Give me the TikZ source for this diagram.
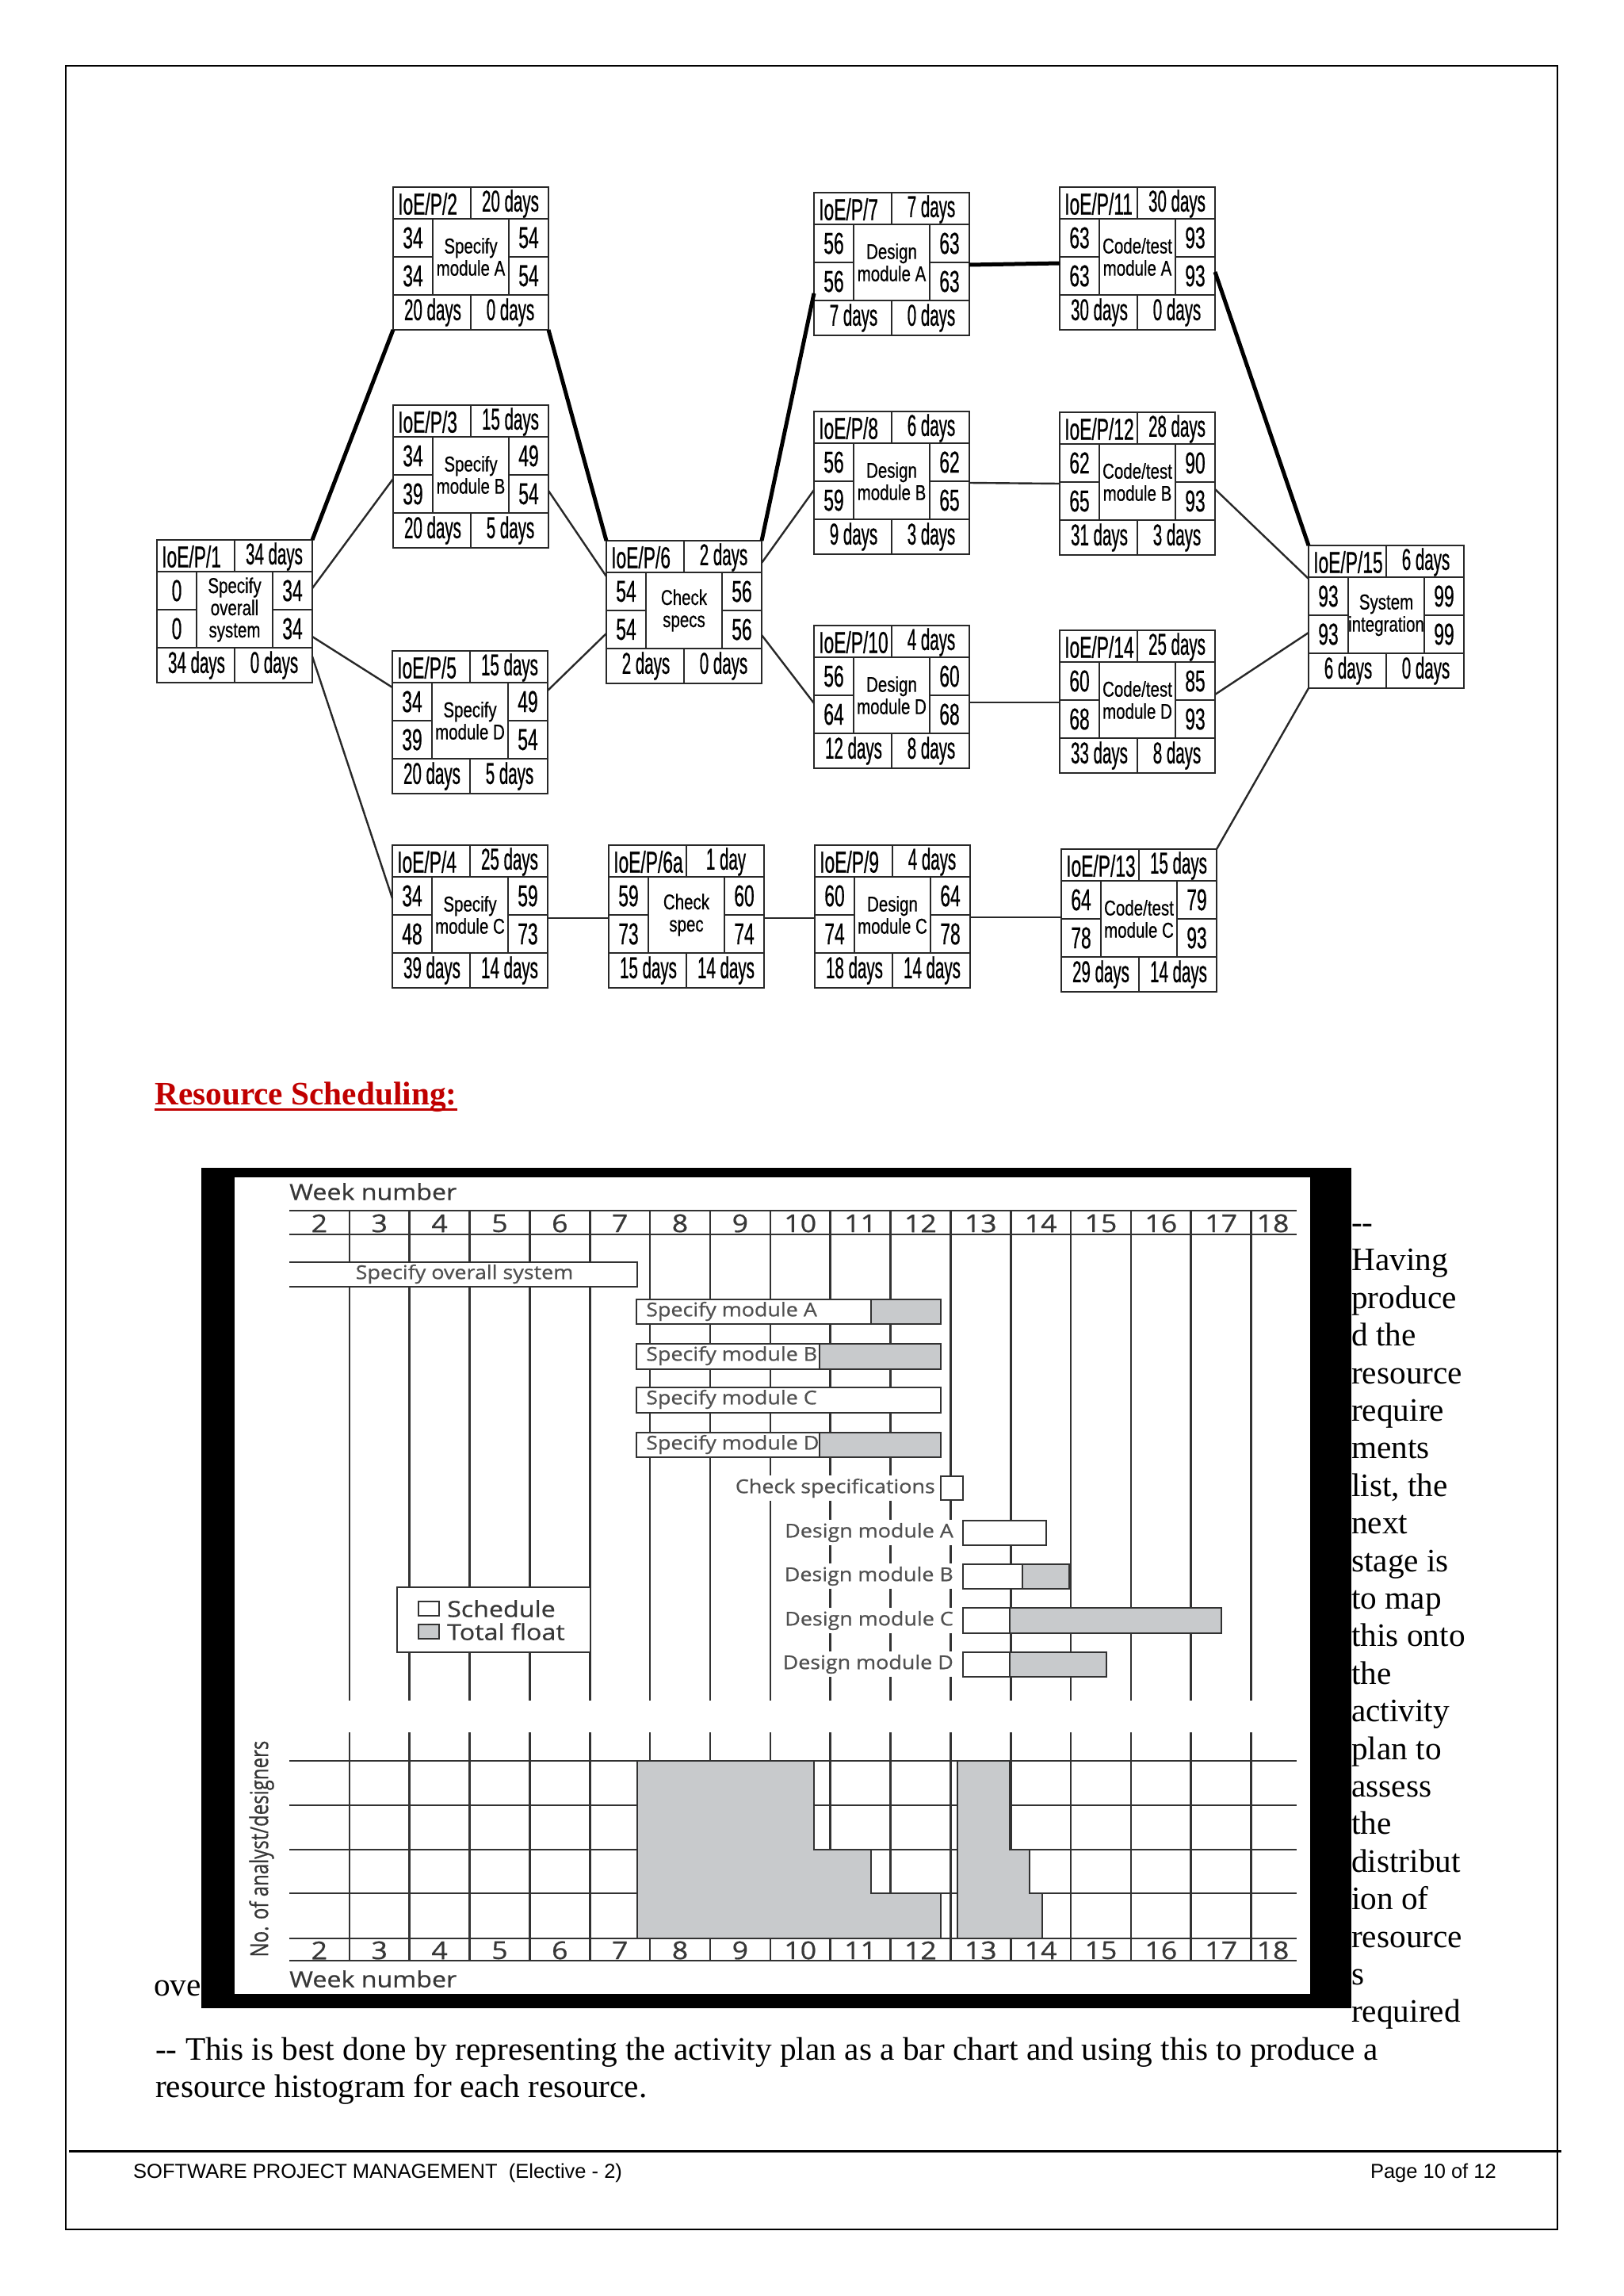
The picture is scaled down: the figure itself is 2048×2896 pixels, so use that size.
\documentclass[tikz,border=0pt]{standalone}
\usepackage{fontspec}
\usepackage{graphicx}
\setmainfont{Liberation Serif}
\newfontfamily\netbig[FakeStretch=0.6,FakeBold=0.6]{Liberation Sans}
\newfontfamily\netdays[FakeStretch=0.54,FakeBold=0.6]{Liberation Sans}
\newfontfamily\netmid[FakeStretch=0.76,FakeBold=0.5]{Liberation Sans}
\newfontfamily\chartf[FakeStretch=1.12,FakeBold=0.7]{Open Sans}
\newfontfamily\chartn[FakeStretch=1.15,FakeBold=0.7]{Open Sans}
\newfontfamily\chartplain[FakeBold=0.7]{Open Sans}
\newfontfamily\footf{Liberation Sans}
\usetikzlibrary{calc}
\definecolor{titlered}{RGB}{192,0,0}
\definecolor{boxline}{RGB}{40,40,40}
\definecolor{gridc}{RGB}{50,50,50}
\definecolor{floatgray}{RGB}{200,202,204}
\definecolor{labgray}{RGB}{80,80,80}
\definecolor{numgray}{RGB}{55,55,55}
\tikzset{
  actframe/.style={draw=boxline, line width=2.8pt, minimum width=196pt, minimum height=180pt, inner sep=0pt, outer sep=0pt, anchor=north west},
  cell/.style={draw=boxline, line width=2.6pt},
  big/.style={font=\netbig\fontsize{38}{42}\selectfont, inner sep=0pt},
  days/.style={font=\netdays\fontsize{38}{42}\selectfont, inner sep=0pt},
  mid/.style={font=\netmid\fontsize{27}{28}\selectfont, inner sep=0pt, align=center},
  link/.style={draw=boxline, line width=2.4pt},
  crit/.style={draw=black, line width=5pt},
  gridl/.style={draw=gridc, line width=2.6pt},
  bar/.style={draw=gridc, line width=2.6pt, fill=white},
  floatbar/.style={draw=gridc, line width=2.6pt, fill=floatgray},
  blab/.style={font=\chartf\fontsize{24}{26}\selectfont, text=labgray, inner sep=0pt},
  olab/.style={font=\chartf\fontsize{24}{26}\selectfont, text=labgray, fill=white, inner xsep=2pt, inner ysep=4pt},
  wk/.style={font=\chartn\fontsize{31}{32}\selectfont, text=numgray, inner sep=0pt},
  wkt/.style={font=\chartn\fontsize{28}{30}\selectfont, text=numgray, inner sep=0pt},
  leg/.style={font=\chartn\fontsize{28}{30}\selectfont, text=numgray, inner sep=0pt},
  body/.style={font=\fontsize{41.3}{47.4}\selectfont, inner sep=0pt},
  foot/.style={font=\footf\fontsize{25.5}{30}\selectfont, inner sep=0pt}
}
\newcommand\actbox[9]{%
  \begin{scope}[shift={(#2)}]
    \node[actframe] (#1) at (0,0) {};
    \draw[cell] (0,40) -- (196,40) (0,136) -- (196,136) (98,0) -- (98,40)
      (98,136) -- (98,180) (50,40) -- (50,136) (146,40) -- (146,136)
      (0,88) -- (50,88) (146,88) -- (196,88);
    \node[big, anchor=west] (#1-id) at (6,21) {#3};
    \node[days] (#1-dur) at (148,21) {#4};
    \node[big] (#1-es) at (25,64) {#5};
    \node[big] (#1-ls) at (25,112) {#6};
    \node[mid] (#1-lab) at (98,88) {#7};
    \node[big] (#1-ef) at (171,64) {#8};
    \node[big] (#1-lf) at (171,112) {#9};
  \end{scope}}
\newcommand\actfoot[3]{%
  \node[days] (#1-tot) at ([xshift=50pt,yshift=22pt]#1.south west) {#2};
  \node[days] (#1-flt) at ([xshift=148pt,yshift=22pt]#1.south west) {#3};}
\begin{document}
\begin{tikzpicture}[x=1pt,y=-1pt]
\useasboundingbox (0,0) rectangle (2048,2896);
\fill[white] (0,0) rectangle (2048,2896);
\draw[line width=2pt] (83,83) rectangle (1965,2812);

% ---------------- activity network ----------------
\actbox{p1}{198,681}{IoE/P/1}{34 days}{0}{0}{Specify\\overall\\system}{34}{34}
\actfoot{p1}{34 days}{0 days}
\actbox{p2}{496,236}{IoE/P/2}{20 days}{34}{34}{Specify\\module A}{54}{54}
\actfoot{p2}{20 days}{0 days}
\actbox{p3}{496,511}{IoE/P/3}{15 days}{34}{39}{Specify\\module B}{49}{54}
\actfoot{p3}{20 days}{5 days}
\actbox{p5}{495,821}{IoE/P/5}{15 days}{34}{39}{Specify\\module D}{49}{54}
\actfoot{p5}{20 days}{5 days}
\actbox{p4}{495,1066}{IoE/P/4}{25 days}{34}{48}{Specify\\module C}{59}{73}
\actfoot{p4}{39 days}{14 days}
\actbox{p6}{765,682}{IoE/P/6}{2 days}{54}{54}{Check\\specs}{56}{56}
\actfoot{p6}{2 days}{0 days}
\actbox{p6a}{768,1066}{IoE/P/6a}{1 day}{59}{73}{Check\\spec}{60}{74}
\actfoot{p6a}{15 days}{14 days}
\actbox{p7}{1027,243}{IoE/P/7}{7 days}{56}{56}{Design\\module A}{63}{63}
\actfoot{p7}{7 days}{0 days}
\actbox{p8}{1027,519}{IoE/P/8}{6 days}{56}{59}{Design\\module B}{62}{65}
\actfoot{p8}{9 days}{3 days}
\actbox{p10}{1027,789}{IoE/P/10}{4 days}{56}{64}{Design\\module D}{60}{68}
\actfoot{p10}{12 days}{8 days}
\actbox{p9}{1028,1066}{IoE/P/9}{4 days}{60}{74}{Design\\module C}{64}{78}
\actfoot{p9}{18 days}{14 days}
\actbox{p11}{1337,236}{IoE/P/11}{30 days}{63}{63}{Code/test\\module A}{93}{93}
\actfoot{p11}{30 days}{0 days}
\actbox{p12}{1337,520}{IoE/P/12}{28 days}{62}{65}{Code/test\\module B}{90}{93}
\actfoot{p12}{31 days}{3 days}
\actbox{p14}{1337,795}{IoE/P/14}{25 days}{60}{68}{Code/test\\module D}{85}{93}
\actfoot{p14}{33 days}{8 days}
\actbox{p13}{1339,1071}{IoE/P/13}{15 days}{64}{78}{Code/test\\module C}{79}{93}
\actfoot{p13}{29 days}{14 days}
\actbox{p15}{1651,688}{IoE/P/15}{6 days}{93}{93}{System\\integration}{99}{99}
\actfoot{p15}{6 days}{0 days}

% connectors
\draw[crit] (p1.north east) -- (p2.south west);
\draw[link] ([yshift=-61pt]p1.north east) -- ([yshift=-93pt]p3.north west);
\draw[link] ([yshift=-122pt]p1.north east) -- ([yshift=-46pt]p5.north west);
\draw[link] ([yshift=-147pt]p1.north east) -- ([yshift=-67pt]p4.north west);
\draw[crit] (p2.south east) -- (p6.north west);
\draw[link] ([yshift=-108pt]p3.north east) -- ([yshift=-45pt]p6.north west);
\draw[link] ([yshift=-50pt]p5.north east) -- ([yshift=-117pt]p6.north west);
\draw[link] ([yshift=-92pt]p4.north east) -- ([yshift=-92pt]p6a.north west);
\draw[link] ([yshift=-92pt]p6a.north east) -- ([yshift=-92pt]p9.north west);
\draw[link] ([yshift=-91pt]p9.north east) -- ([yshift=-86pt]p13.north west);
\draw[crit] (p6.north east) -- ([yshift=-127pt]p7.north west);
\draw[link] ([yshift=-28pt]p6.north east) -- ([yshift=-99pt]p8.north west);
\draw[link] ([yshift=-119pt]p6.north east) -- ([yshift=-98pt]p10.north west);
\draw[crit] ([yshift=-91pt]p7.north east) -- ([yshift=-96pt]p11.north west);
\draw[link] ([yshift=-90pt]p8.north east) -- ([yshift=-90pt]p12.north west);
\draw[link] ([yshift=-97pt]p10.north east) -- ([yshift=-91pt]p14.north west);
\draw[crit] ([yshift=-107pt]p11.north east) -- (p15.north west);
\draw[link] ([yshift=-97pt]p12.north east) -- ([yshift=-42pt]p15.north west);
\draw[link] ([yshift=-81pt]p14.north east) -- ([yshift=-110pt]p15.north west);
\draw[link] (p13.north east) -- (p15.south west);

% ---------------- heading ----------------
\node[body, anchor=base west, font=\bfseries\fontsize{41.3}{47.4}\selectfont, text=titlered] (title) at (195,1393) {Resource Scheduling:};
\draw[titlered, line width=3.2pt] ([yshift=-6.5pt]title.base west) -- ([yshift=-6.5pt]title.base east);

% ---------------- bar chart picture ----------------
\fill[black] (254,1473) rectangle (1705,2533);
\fill[white] (296,1485) rectangle (1653,2515);
\node[wkt, anchor=west] (wktop) at (365,1503) {Week number};
\draw[gridl] (365,1527) -- (1636,1527) (365,1557) -- (1636,1557);
\foreach \k in {3,...,18} {
  \draw[gridl] ({365+(\k-2)*75.85},1527) -- ++(0,618);
  \draw[gridl] ({365+(\k-2)*75.85},2185) -- ++(0,288);
}
\foreach \k in {2,...,17} {
  \node[wk] (ht\k) at ({365+(\k-2)*75.85+37.9},1543) {\k};
  \node[wk] (hb\k) at ({365+(\k-2)*75.85+37.9},2460) {\k};
}
\node[wk] (ht18) at (1606,1543) {18};
\node[wk] (hb18) at (1606,2460) {18};

% bars
\fill[white] (365,1592) rectangle (804,1623);
\draw[gridl] (365,1592) -- (804,1592) -- (804,1623) -- (365,1623);
\draw[bar] (803,1639) rectangle (1187,1670);
\draw[floatbar] (1099,1639) rectangle (1187,1670);
\draw[bar] (803,1695) rectangle (1187,1727);
\draw[floatbar] (1034,1695) rectangle (1187,1727);
\draw[bar] (803,1750) rectangle (1187,1782);
\draw[bar] (803,1807) rectangle (1187,1838);
\draw[floatbar] (1034,1807) rectangle (1187,1838);
\draw[bar] (1187,1862) rectangle (1215,1892);
\draw[bar] (1215,1918) rectangle (1320,1949);
\draw[bar] (1215,1973) rectangle (1349,2004);
\draw[floatbar] (1290,1973) rectangle (1349,2004);
\draw[bar] (1215,2028) rectangle (1541,2060);
\draw[floatbar] (1274,2028) rectangle (1541,2060);
\draw[bar] (1215,2084) rectangle (1396,2115);
\draw[floatbar] (1274,2084) rectangle (1396,2115);

\node[blab] (sos) at (586,1607) {Specify overall system};
\node[blab, anchor=west] (sa) at (815,1654) {Specify module A};
\node[blab, anchor=west] (sb) at (815,1710) {Specify module B};
\node[blab, anchor=west] (sc) at (815,1765) {Specify module C};
\node[blab, anchor=west] (sd) at (815,1822) {Specify module D};
\node[olab, anchor=east] (cs) at (1182,1877) {Check specifications};
\node[olab, anchor=east] (da) at (1205,1933) {Design module A};
\node[olab, anchor=east] (db) at (1205,1988) {Design module B};
\node[olab, anchor=east] (dc) at (1205,2044) {Design module C};
\node[olab, anchor=east] (dd) at (1205,2099) {Design module D};

% legend
\draw[draw=gridc, line width=2.2pt, fill=white] (501,2002) rectangle (745,2084);
\draw[draw=gridc, line width=2pt, fill=white] (528,2020) rectangle (554,2038);
\draw[draw=gridc, line width=2pt, fill=floatgray] (528,2049) rectangle (554,2067);
\node[leg, anchor=west] (lsch) at (564,2029) {Schedule};
\node[leg, anchor=west] (lflt) at (564,2058) {Total float};

% histogram
\foreach \yy in {2221,2277,2333,2388,2445,2473} \draw[gridl] (365,\yy) -- (1636,\yy);
\draw[gridl, fill=floatgray] (804,2445) -- (804,2221) -- (1027,2221) -- (1027,2333) -- (1099,2333) -- (1099,2388) -- (1187,2388) -- (1187,2445) -- cycle;
\draw[gridl, fill=floatgray] (1208,2445) -- (1208,2221) -- (1274,2221) -- (1274,2333) -- (1299,2333) -- (1299,2388) -- (1315,2388) -- (1315,2445) -- cycle;
\node[rotate=90, font=\chartplain\fontsize{24}{26}\selectfont, text=numgray, inner sep=0pt] (ylab) at (330,2332) {\scalebox{1}[1.3]{No. of analyst/designers}};
\node[wkt, anchor=west] (wkbot) at (365,2496) {Week number};

% ---------------- text ----------------
\foreach \t [count=\i from 0] in {{-{}-},Having,produce,{d the},resource,require,ments,{list, the},next,{stage is},{to map},{this onto},the,activity,{plan to},assess,the,distribut,{ion of},resource,s,required} {
  \node[body, anchor=base west] (rc\i) at (1705,{1555.5+\i*47.4}) {\t};
}
\node[body, anchor=base west] (ove) at (194,2517) {ove};
\node[body, anchor=base west] (l1) at (196,2598) {-{}- This is best done by representing the activity plan as a bar chart and using this to produce a};
\node[body, anchor=base west] (l2) at (196,2645) {resource histogram for each resource.};

% ---------------- footer ----------------
\draw[line width=3pt] (87,2713) -- (1970,2713);
\node[foot, anchor=base west] (fl) at (168,2747) {SOFTWARE PROJECT MANAGEMENT\ \ (Elective - 2)};
\node[foot, anchor=base east] (fr) at (1888,2747) {Page 10 of 12};
\end{tikzpicture}
\end{document}
